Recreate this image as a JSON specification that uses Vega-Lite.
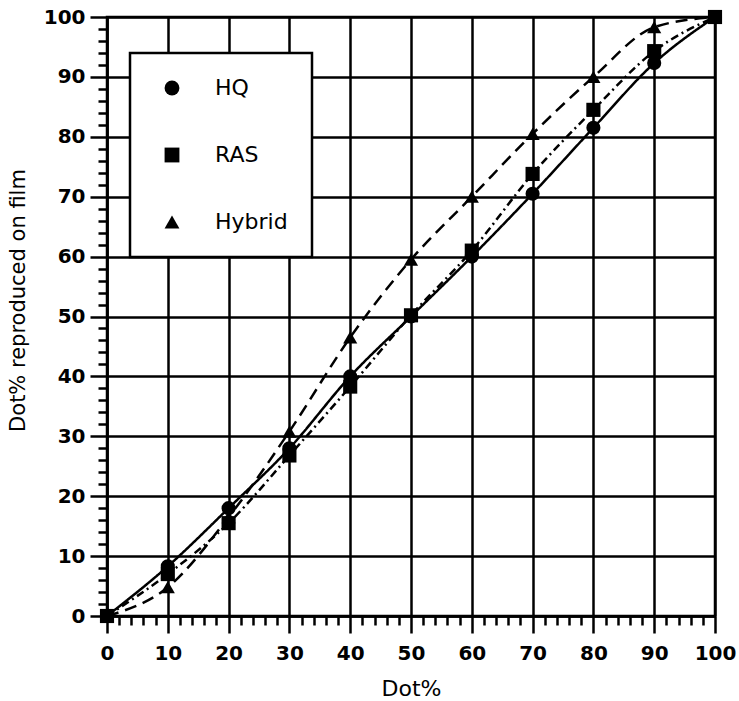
{
  "$schema": "https://vega.github.io/schema/vega-lite/v6.json",
  "width": 608,
  "height": 599,
  "autosize": {"type": "none"},
  "padding": {"left": 107, "top": 17, "right": 24, "bottom": 85},
  "data": {
    "values": [
      {"series": "HQ", "dot": 0, "film": 0},
      {"series": "HQ", "dot": 10, "film": 8.3},
      {"series": "HQ", "dot": 20, "film": 18},
      {"series": "HQ", "dot": 30, "film": 28},
      {"series": "HQ", "dot": 40, "film": 40},
      {"series": "HQ", "dot": 50, "film": 50},
      {"series": "HQ", "dot": 60, "film": 60},
      {"series": "HQ", "dot": 70, "film": 70.5},
      {"series": "HQ", "dot": 80, "film": 81.5},
      {"series": "HQ", "dot": 90, "film": 92.3},
      {"series": "HQ", "dot": 100, "film": 100},
      {"series": "RAS", "dot": 0, "film": 0},
      {"series": "RAS", "dot": 10, "film": 7},
      {"series": "RAS", "dot": 20, "film": 15.5},
      {"series": "RAS", "dot": 30, "film": 26.8},
      {"series": "RAS", "dot": 40, "film": 38.3},
      {"series": "RAS", "dot": 50, "film": 50.2},
      {"series": "RAS", "dot": 60, "film": 61},
      {"series": "RAS", "dot": 70, "film": 73.8},
      {"series": "RAS", "dot": 80, "film": 84.5},
      {"series": "RAS", "dot": 90, "film": 94.3},
      {"series": "RAS", "dot": 100, "film": 100},
      {"series": "Hybrid", "dot": 0, "film": 0},
      {"series": "Hybrid", "dot": 10, "film": 4.8},
      {"series": "Hybrid", "dot": 20, "film": 16.5},
      {"series": "Hybrid", "dot": 30, "film": 30.8},
      {"series": "Hybrid", "dot": 40, "film": 46.5},
      {"series": "Hybrid", "dot": 50, "film": 59.5},
      {"series": "Hybrid", "dot": 60, "film": 70},
      {"series": "Hybrid", "dot": 70, "film": 80.5},
      {"series": "Hybrid", "dot": 80, "film": 90},
      {"series": "Hybrid", "dot": 90, "film": 98.3},
      {"series": "Hybrid", "dot": 100, "film": 100}
    ]
  },
  "encoding": {
    "x": {
      "field": "dot",
      "type": "quantitative",
      "scale": {"domain": [0, 100], "nice": false},
      "axis": {
        "title": "Dot%",
        "values": [0,2,4,6,8,10,12,14,16,18,20,22,24,26,28,30,32,34,36,38,40,42,44,46,48,50,52,54,56,58,60,62,64,66,68,70,72,74,76,78,80,82,84,86,88,90,92,94,96,98,100],
        "labelExpr": "datum.value % 10 === 0 ? datum.label : ''",
        "labelOverlap": false,
        "labelFlush": false,
        "labelPadding": 10,
        "labelBaseline": "top",
        "tickSize": {"condition": {"test": "datum.value % 10 === 0", "value": 17}, "value": 9},
        "gridOpacity": {"condition": {"test": "datum.value % 10 === 0", "value": 1}, "value": 0},
        "titleY": 72,
        "titleBaseline": "middle"
      }
    },
    "y": {
      "field": "film",
      "type": "quantitative",
      "scale": {"domain": [0, 100], "nice": false},
      "axis": {
        "title": "Dot% reproduced on film",
        "values": [0,2,4,6,8,10,12,14,16,18,20,22,24,26,28,30,32,34,36,38,40,42,44,46,48,50,52,54,56,58,60,62,64,66,68,70,72,74,76,78,80,82,84,86,88,90,92,94,96,98,100],
        "labelExpr": "datum.value % 10 === 0 ? datum.label : ''",
        "labelOverlap": false,
        "labelFlush": false,
        "labelPadding": 5,
        "labelBaseline": "middle",
        "tickSize": {"condition": {"test": "datum.value % 10 === 0", "value": 17}, "value": 9},
        "gridOpacity": {"condition": {"test": "datum.value % 10 === 0", "value": 1}, "value": 0},
        "titleX": -89,
        "titleY": 283,
        "titleAngle": 270,
        "titleAlign": "center",
        "titleBaseline": "middle",
        "titleFontSize": 21
      }
    }
  },
  "layer": [
    {
      "mark": {"type": "line", "interpolate": "monotone", "strokeWidth": 2.5, "color": "black"},
      "encoding": {
        "detail": {"field": "series", "type": "nominal"},
        "strokeDash": {
          "condition": [
            {"test": "datum.series === 'RAS'", "value": [8, 4, 2, 4]},
            {"test": "datum.series === 'Hybrid'", "value": [12, 7]}
          ],
          "value": [1, 0]
        }
      }
    },
    {
      "mark": {"type": "point", "filled": true, "color": "black", "opacity": 1, "size": 200},
      "encoding": {
        "shape": {
          "field": "series",
          "type": "nominal",
          "scale": {"domain": ["HQ", "RAS", "Hybrid"], "range": ["circle", "square", "triangle-up"]},
          "legend": {
            "title": null,
            "orient": "none",
            "legendX": 23,
            "legendY": 36,
            "padding": 24,
            "rowPadding": 45,
            "symbolOffset": 7,
            "labelOffset": 32,
            "symbolSize": 220,
            "symbolFillColor": "black",
            "symbolStrokeColor": "black",
            "fillColor": "white",
            "strokeColor": "black",
            "labelFontSize": 22,
            "labelFont": "DejaVu Sans",
            "labelColor": "black"
          }
        }
      }
    }
  ],
  "config": {
    "font": "DejaVu Sans",
    "view": {"stroke": "black", "strokeWidth": 2.5},
    "axis": {
      "domainColor": "black",
      "domainWidth": 2.5,
      "gridColor": "black",
      "gridWidth": 2.5,
      "tickColor": "black",
      "tickWidth": 2.5,
      "labelFont": "DejaVu Sans",
      "labelFontSize": 20,
      "labelFontWeight": "bold",
      "labelColor": "black",
      "titleFont": "DejaVu Sans",
      "titleFontSize": 22,
      "titleFontWeight": "normal",
      "titleColor": "black"
    },
    "legend": {"strokeWidth": 2.5}
  }
}
